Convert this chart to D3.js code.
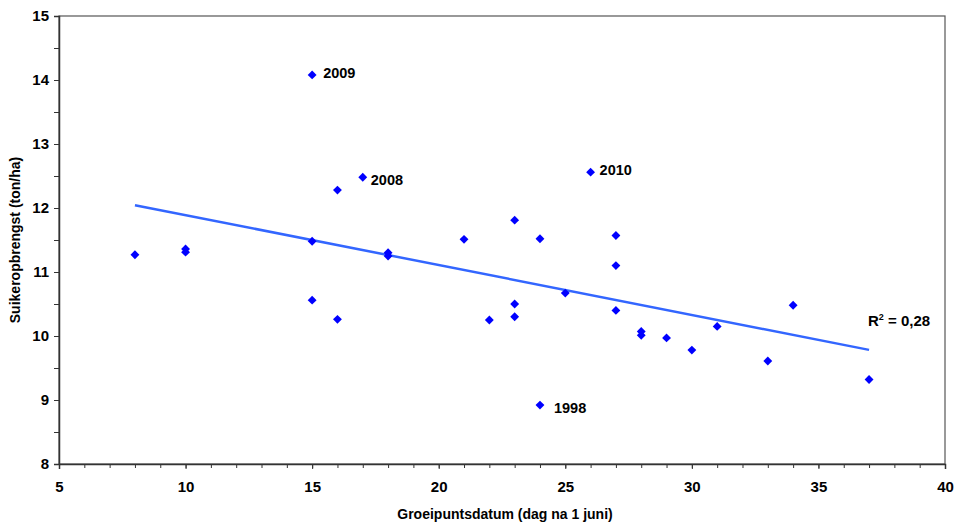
<!DOCTYPE html>
<html>
<head>
<meta charset="utf-8">
<script src="https://cdn.jsdelivr.net/npm/d3@7"></script>
<style>
  body { margin: 0; background: #fff; }
  text { font-family: Arial, "Liberation Sans", sans-serif; font-weight: bold; fill: #000; }
</style>
</head>
<body>
<div class="chart"></div>
<script>
// groeipuntsdatum (dag na 1 juni)
var days = [8, 10, 10, 15, 15, 15, 16, 16, 17, 18, 18, 21, 22, 23, 23, 23, 24, 24, 25, 26, 27, 27, 27, 28, 28, 29, 30, 31, 33, 34, 37];
// suikeropbrengst (ton/ha)
var yields = [11.27, 11.36, 11.31, 14.08, 11.48, 10.56, 12.28, 10.26, 12.48, 11.30, 11.25, 11.51, 10.25, 11.81, 10.50, 10.30, 11.52, 8.92, 10.67, 12.56, 11.57, 11.10, 10.40, 10.07, 10.01, 9.97, 9.78, 10.15, 9.61, 10.48, 9.32];
// labelled years: index into the arrays above
var yearIdx = [3, 8, 19, 17];
var yearNames = ["2009", "2008", "2010", "1998"];
var xTicks = [5, 10, 15, 20, 25, 30, 35, 40];
var yTicks = [8, 9, 10, 11, 12, 13, 14, 15];
var r2Text = "0,28";

var width = 956, height = 522;
var pLeft = 59, pTop = 16, pRight = 945, pBottom = 464;

var svg = d3.select(".chart").append("svg")
  .attr("width", width)
  .attr("height", height);

var x = d3.scaleLinear().domain([5, 40]).range([pLeft, pRight]);
var y = d3.scaleLinear().domain([8, 15]).range([pBottom, pTop]);

// plot frame
svg.append("rect")
  .attr("x", pLeft).attr("y", pTop)
  .attr("width", pRight - pLeft).attr("height", pBottom - pTop)
  .style("fill", "none").style("stroke", "#555").style("stroke-width", 1.2);

// minor ticks
var xAxisMinor = d3.axisBottom(x).tickValues(d3.range(5, 41, 1)).tickSize(4).tickFormat("");
var yAxisMinor = d3.axisLeft(y).tickValues(d3.range(8, 15.01, 0.5)).tickSize(5).tickFormat("");

svg.append("g").attr("transform", "translate(0," + pBottom + ")").call(xAxisMinor)
  .call(function(g) { g.select(".domain").remove(); g.selectAll("line").style("stroke", "#333"); });
svg.append("g").attr("transform", "translate(" + pLeft + ",0)").call(yAxisMinor)
  .call(function(g) { g.select(".domain").remove(); g.selectAll("line").style("stroke", "#333"); });

var xAxis = d3.axisBottom(x).tickValues(xTicks).tickFormat(d3.format("d")).tickSize(5).tickPadding(12);
var yAxis = d3.axisLeft(y).tickValues(yTicks).tickFormat(d3.format("d")).tickSize(5).tickPadding(5);

function styleAxis(g) {
  g.select(".domain").style("stroke", "#333").style("stroke-width", 1.5);
  g.selectAll("line").style("stroke", "#333");
  g.selectAll("text").style("font-size", "15px").style("font-family", "Arial, 'Liberation Sans', sans-serif").style("font-weight", "bold");
}

svg.append("g").attr("transform", "translate(0," + pBottom + ")").call(xAxis).call(styleAxis);
svg.append("g").attr("transform", "translate(" + pLeft + ",0)").call(yAxis).call(styleAxis);

// axis titles
svg.append("text")
  .attr("x", 505).attr("y", 519)
  .attr("text-anchor", "middle")
  .style("font-size", "14px")
  .text("Groeipuntsdatum (dag na 1 juni)");

svg.append("text")
  .attr("transform", "translate(20,240) rotate(-90)")
  .attr("text-anchor", "middle")
  .style("font-size", "14px")
  .text("Suikeropbrengst (ton/ha)");

// trend line (least squares)
var mx = d3.mean(days), my = d3.mean(yields);
var sxy = d3.sum(days, function(d, i) { return (d - mx) * (yields[i] - my); });
var sxx = d3.sum(days, function(d) { return (d - mx) * (d - mx); });
var slope = sxy / sxx, icept = my - slope * mx;
var x0 = d3.min(days), x1 = d3.max(days);

svg.append("path")
  .datum([x0, x1])
  .attr("d", d3.line().x(function(d) { return x(d); }).y(function(d) { return y(icept + slope * d); }))
  .style("fill", "none").style("stroke", "#3366ff").style("stroke-width", 2.5);

// points
svg.selectAll(".pt")
  .data(days)
  .enter().append("path")
  .attr("class", "pt")
  .attr("transform", function(d, i) { return "translate(" + x(d) + "," + y(yields[i]) + ")"; })
  .attr("d", d3.symbol().type(d3.symbolDiamond2).size(50))
  .style("fill", "#0000ff");

// year labels, nudged by hand like the original
var labelNudge = [[11, 3], [8, 8], [9, 3], [14, 8]];
svg.selectAll(".yr")
  .data(yearIdx)
  .enter().append("text")
  .attr("class", "yr")
  .attr("x", function(d, i) { return x(days[d]) + labelNudge[i][0]; })
  .attr("y", function(d, i) { return y(yields[d]) + labelNudge[i][1]; })
  .style("font-size", "14.5px")
  .text(function(d, i) { return yearNames[i]; });

// R squared
var r2 = svg.append("text")
  .attr("x", 868).attr("y", 326)
  .style("font-size", "15px");
r2.append("tspan").text("R");
r2.append("tspan").attr("dy", -6).style("font-size", "9px").text("2");
r2.append("tspan").attr("dy", 6).text(" = " + r2Text);
</script>
</body>
</html>
